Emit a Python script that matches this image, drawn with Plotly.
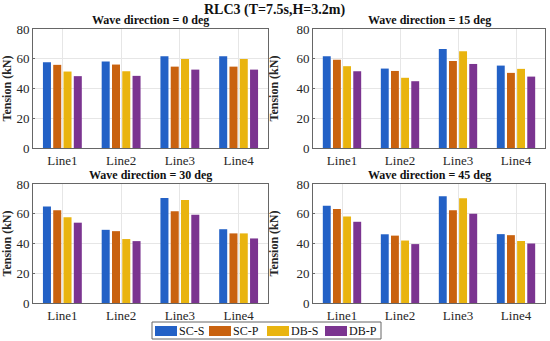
import plotly.graph_objects as go

lines = ["Line1", "Line2", "Line3", "Line4"]
series = ["SC-S", "SC-P", "DB-S", "DB-P"]
colors = ["#2361C6", "#C9620F", "#E9B40F", "#7B3490"]

panel_titles = ["Wave direction = 0 deg", "Wave direction = 15 deg",
                "Wave direction = 30 deg", "Wave direction = 45 deg"]

deg0 = {"SC-S": [57.7, 58.1, 61.7, 61.7],
        "SC-P": [55.9, 56.1, 54.7, 54.7],
        "DB-S": [51.4, 51.6, 59.9, 59.9],
        "DB-P": [48.3, 48.5, 52.7, 52.7]}
deg15 = {"SC-S": [61.7, 53.4, 66.6, 55.4],
         "SC-P": [59.4, 51.8, 58.5, 50.5],
         "DB-S": [55.0, 47.2, 65.0, 53.2],
         "DB-P": [51.6, 44.9, 56.5, 48.0]}
deg30 = {"SC-S": [64.9, 49.2, 70.6, 49.6],
         "SC-P": [62.3, 48.3, 61.6, 46.8],
         "DB-S": [57.6, 43.0, 69.2, 46.8],
         "DB-P": [54.0, 41.6, 59.4, 43.4]}
deg45 = {"SC-S": [65.4, 46.2, 71.7, 46.3],
         "SC-P": [63.2, 45.3, 62.3, 45.6],
         "DB-S": [58.2, 42.0, 70.4, 41.7],
         "DB-P": [54.6, 39.6, 60.0, 40.0]}
panels = [deg0, deg15, deg30, deg45]

main_title = "RLC3 (T=7.5s,H=3.2m)"
y_title = "Tension (kN)"
y_ticks = [0, 20, 40, 60, 80]

W, H = 550, 341
xdoms = [[33 / W, 268 / W], [313 / W, 545 / W]]
ydoms = [[1 - 148 / H, 1 - 29 / H], [1 - 303 / H, 1 - 184 / H]]

FF = "Liberation Serif, Times New Roman, Times, serif"
TXT = "#262626"
fig = go.Figure()

for i, data in enumerate(panels):
    ax = "" if i == 0 else str(i + 1)
    for j, s in enumerate(series):
        fig.add_trace(go.Bar(
            x=lines, y=data[s], name=s, marker_color=colors[j],
            marker_line_width=0, xaxis="x" + ax, yaxis="y" + ax,
            showlegend=False, hoverinfo="skip",
        ))
    r, c = divmod(i, 2)
    xa = dict(domain=xdoms[c], anchor="y" + ax, showgrid=True, gridcolor="#e6e6e6",
              showline=True, mirror=True, linecolor="#666666", linewidth=1,
              tickfont=dict(family=FF, size=13, color=TXT), automargin=False,
              ticks="", zeroline=False)
    ya = dict(domain=ydoms[r], anchor="x" + ax, range=[0, 80], tickvals=y_ticks,
              showgrid=True, gridcolor="#e6e6e6", showline=True, mirror=True,
              linecolor="#666666", linewidth=1, zeroline=False, automargin=False,
              ticks="inside", ticklen=2, tickcolor="#666666",
              tickfont=dict(family=FF, size=13, color=TXT),
              title=dict(text="<b>" + y_title + "</b>",
                         font=dict(family=FF, size=12, color=TXT)))
    fig.layout["xaxis" + ax] = xa
    fig.layout["yaxis" + ax] = ya
    fig.add_annotation(text="<b>" + panel_titles[i] + "</b>", xref="paper", yref="paper",
                       x=(xdoms[c][0] + xdoms[c][1]) / 2, y=ydoms[r][1], yshift=0,
                       xanchor="center", yanchor="bottom", showarrow=False,
                       font=dict(family=FF, size=12, color="#111"))

fig.add_annotation(text="<b>" + main_title + "</b>", xref="paper", yref="paper",
                   x=0.5, y=1, xanchor="center", yanchor="top", showarrow=False,
                   font=dict(family=FF, size=14, color="#111"))


def px(x):
    return x / W


def py(y):
    return 1 - y / H


shapes = [dict(type="rect", xref="paper", yref="paper", x0=px(152), x1=px(381),
               y0=py(339), y1=py(322), line=dict(color="#666666", width=1),
               fillcolor="white")]
sw_x = [155, 209, 267, 325]
for j, s in enumerate(series):
    shapes.append(dict(type="rect", xref="paper", yref="paper",
                       x0=px(sw_x[j]), x1=px(sw_x[j] + 22), y0=py(336), y1=py(326),
                       line=dict(width=0), fillcolor=colors[j]))
    fig.add_annotation(text=s, xref="paper", yref="paper", x=px(sw_x[j] + 23),
                       y=py(331), xanchor="left", yanchor="middle", showarrow=False,
                       borderpad=0,
                       font=dict(family=FF, size=12, color="#111"))

fig.update_layout(
    width=W, height=H, margin=dict(l=0, r=0, t=0, b=0, autoexpand=False),
    paper_bgcolor="white", plot_bgcolor="white",
    barmode="group", bargap=0.3, bargroupgap=0.22,
    showlegend=False, shapes=shapes,
    font=dict(family=FF),
)

fig.write_html("out.html", config={"displayModeBar": False},
               post_script="document.body.style.margin='0';document.body.style.overflow='hidden';")
